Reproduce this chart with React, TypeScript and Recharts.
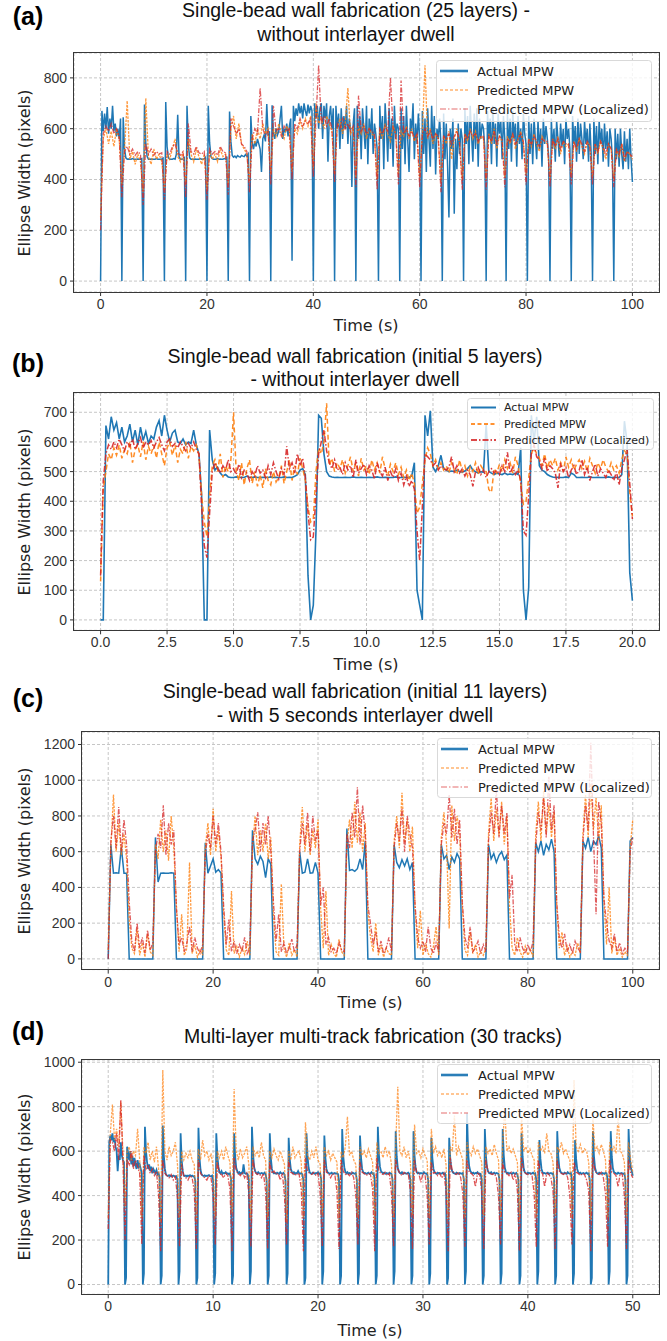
import React from 'react';
import { LineChart, Line, XAxis, YAxis, CartesianGrid } from 'recharts';

const BLUE = '#1f77b4';
const ORANGE = '#ff7f0e';
const RED = '#d62728';

// ---------- (a) 25 layers, no dwell ----------
const aXTicks = [0, 20, 40, 60, 80, 100];
const aYTicks = [0, 200, 400, 600, 800];
const aDtActual = 0.25;
const aDtPred = 0.5;
// one line = 4 s
const aActual = [
  0, 670, 590, 660, 600, 685, 580, 640, 600, 690, 590, 620, 570, 600, 560, 640,
  0, 645, 520, 485, 480, 481, 480, 480, 482, 480, 480, 480, 481, 480, 480, 482,
  0, 695, 540, 490, 480, 480, 481, 480, 480, 480, 482, 480, 480, 480, 480, 484,
  0, 705, 530, 485, 480, 480, 480, 482, 480, 500, 655, 490, 480, 480, 481, 486,
  0, 690, 535, 485, 480, 480, 480, 481, 480, 480, 480, 482, 480, 480, 482, 488,
  0, 690, 545, 490, 482, 480, 480, 480, 483, 480, 481, 480, 480, 482, 480, 490,
  0, 668, 550, 495, 488, 492, 486, 494, 490, 488, 495, 492, 490, 498, 492, 500,
  0, 650, 545, 520, 550, 530, 560, 540, 520, 430, 560, 575, 550, 697, 570, 590,
  0, 692, 580, 560, 600, 575, 590, 640, 690, 560, 600, 585, 620, 570, 610, 640,
  80, 690, 630, 680, 650, 700, 660, 690, 640, 700, 670, 650, 695, 660, 690, 670,
  0, 700, 640, 690, 600, 680, 700, 560, 690, 640, 700, 470, 650, 690, 600, 680,
  0, 690, 600, 660, 520, 680, 560, 650, 600, 690, 540, 640, 600, 370, 620, 680,
  0, 690, 560, 650, 480, 680, 600, 520, 690, 460, 640, 560, 680, 500, 620, 580,
  520, 0, 690, 560, 650, 440, 700, 600, 470, 680, 520, 640, 450, 690, 560, 620,
  600, 0, 680, 520, 650, 460, 690, 560, 430, 640, 590, 700, 480, 620, 540, 660,
  560, 0, 670, 500, 640, 430, 680, 560, 450, 690, 520, 650, 420, 600, 560, 640,
  540, 0, 660, 480, 620, 450, 250, 600, 520, 640, 265, 560, 440, 620, 500, 600,
  560, 0, 680, 540, 650, 460, 690, 580, 470, 660, 520, 680, 450, 640, 560, 620,
  600, 520, 0, 670, 560, 640, 460, 690, 540, 620, 450, 660, 580, 630, 480, 650,
  560, 0, 660, 520, 640, 470, 670, 560, 620, 450, 650, 540, 600, 480, 660, 580,
  540, 0, 650, 500, 620, 460, 640, 560, 480, 630, 520, 600, 450, 640, 540, 610,
  560, 490, 0, 640, 520, 600, 470, 630, 560, 490, 620, 530, 600, 460, 640, 560,
  600, 520, 0, 650, 540, 610, 470, 640, 500, 620, 560, 480, 630, 540, 600, 470,
  620, 500, 0, 640, 500, 610, 460, 630, 540, 600, 470, 620, 520, 590, 450, 600,
  560, 480, 0, 600, 480, 580, 450, 600, 500, 440, 590, 470, 560, 440, 600, 480,
  390,
];
const aPred = [
  250, 560, 600, 540, 590, 530, 600, 560,
  380, 520, 710, 480, 510, 460, 500, 470,
  350, 720, 490, 460, 520, 480, 500, 470,
  360, 500, 480, 520, 560, 490, 470, 510,
  380, 560, 500, 470, 520, 490, 460, 500,
  360, 510, 480, 500, 470, 520, 490, 500,
  380, 600, 650, 560, 620, 540, 520, 500,
  390, 580, 540, 600, 560, 620, 580, 600,
  420, 600, 570, 620, 580, 560, 610, 590,
  430, 600, 580, 630, 600, 640, 610, 650,
  440, 700, 620, 640, 600, 650, 620, 590,
  420, 600, 640, 580, 620, 760, 580, 600,
  410, 610, 580, 620, 560, 600, 580, 570,
  400, 600, 560, 620, 580, 550, 610, 580,
  420, 590, 570, 610, 560, 600, 550, 580,
  400, 580, 850, 560, 600, 540, 580, 560,
  390, 570, 540, 590, 480, 560, 600, 540,
  400, 580, 550, 600, 560, 590, 540, 570,
  560, 400, 580, 540, 600, 520, 570, 550,
  410, 570, 540, 580, 520, 560, 590, 540,
  420, 560, 530, 580, 540, 510, 570, 550,
  540, 400, 560, 520, 570, 500, 550, 530,
  540, 420, 550, 510, 560, 530, 500, 550,
  530, 410, 540, 500, 550, 520, 480, 540,
  520, 400, 520, 490, 540, 470, 510, 500,
  480,
];
const aLocal = [
  200, 580, 610, 590, 620, 580, 600, 570,
  330, 510, 530, 500, 520, 495, 510, 500,
  300, 540, 500, 520, 495, 510, 500, 505,
  320, 510, 500, 530, 540, 505, 495, 510,
  330, 620, 510, 500, 530, 505, 500, 510,
  320, 520, 500, 510, 495, 530, 510, 505,
  340, 640, 610, 580, 600, 540, 530, 510,
  350, 560, 600, 580, 760, 600, 570, 590,
  380, 690, 590, 600, 570, 610, 590, 600,
  400, 620, 600, 640, 610, 630, 620, 640,
  410, 640, 850, 620, 650, 610, 640, 600,
  390, 620, 600, 640, 600, 620, 590, 610,
  370, 730, 590, 610, 580, 600, 590, 580,
  360, 600, 580, 610, 590, 800, 600, 580,
  380, 790, 580, 600, 570, 590, 560, 580,
  370, 580, 600, 570, 590, 560, 580, 570,
  350, 570, 560, 580, 540, 570, 590, 550,
  360, 580, 560, 590, 570, 580, 550, 570,
  570, 360, 570, 550, 590, 540, 570, 560,
  370, 560, 550, 580, 540, 560, 580, 550,
  380, 560, 540, 570, 550, 530, 560, 550,
  550, 370, 560, 530, 560, 520, 550, 540,
  540, 380, 550, 520, 560, 540, 510, 550,
  530, 380, 540, 510, 550, 530, 500, 540,
  520, 370, 520, 500, 540, 480, 510, 500,
  490,
];

// ---------- (b) initial 5 layers ----------
const bXTicks = [0, 2.5, 5, 7.5, 10, 12.5, 15, 17.5, 20];
const bYTicks = [0, 100, 200, 300, 400, 500, 600, 700];
const bDt = 0.1;
// one line = 1 s
const bActual = [
  0, 0, 655, 610, 685, 640, 665, 610, 650, 600,
  620, 660, 600, 640, 590, 650, 605, 635, 595, 620,
  610, 650, 672, 620, 690, 640, 600, 630, 640, 600,
  595, 610, 590, 600, 595, 640, 590, 560, 420, 0,
  0, 640, 540, 505, 515, 495, 485, 490, 482, 480,
  480, 482, 480, 481, 480, 485, 480, 480, 482, 480,
  480, 481, 480, 480, 482, 480, 481, 480, 480, 482,
  480, 481, 480, 484, 490, 505, 510, 490, 150, 0,
  50, 300, 690, 680, 560, 500, 485, 482, 480, 481,
  480, 480, 481, 480, 480, 482, 480, 480, 481, 480,
  480, 481, 480, 480, 482, 480, 480, 481, 480, 480,
  480, 482, 480, 480, 481, 480, 480, 485, 530, 100,
  50, 0, 690, 620, 705, 515, 500, 520, 555, 510,
  505, 500, 502, 500, 505, 500, 498, 502, 510, 520,
  505, 500, 495, 500, 498, 660, 500, 495, 490, 495,
  492, 490, 495, 490, 492, 490, 495, 490, 580, 100,
  0, 110, 690, 600, 685, 520, 505, 500, 490, 485,
  482, 480, 481, 480, 480, 482, 480, 495, 490, 480,
  480, 481, 480, 480, 482, 480, 480, 481, 480, 480,
  480, 482, 480, 481, 480, 480, 490, 670, 600, 160,
  65,
];
const bPred = [
  130, 440, 500, 560, 540, 580, 555, 590, 545, 575,
  560, 600, 530, 575, 590, 550, 600, 540, 585, 560,
  590, 545, 600, 560, 520, 580, 600, 555, 590, 530,
  575, 560, 600, 545, 585, 570, 590, 555, 420, 330,
  280, 420, 520, 540, 500, 560, 480, 520, 500, 540,
  700, 500, 470, 530, 455, 510, 540, 460, 500, 450,
  490, 445, 510, 470, 455, 500, 465, 480, 520, 460,
  500, 540, 470, 520, 490, 545, 510, 470, 380, 330,
  340, 500, 580, 560, 600, 730, 520, 545, 500, 530,
  510, 540, 495, 520, 550, 500, 530, 485, 545, 505,
  520, 490, 540, 505, 530, 495, 550, 510, 485, 525,
  500, 530, 490, 515, 480, 505, 470, 495, 460, 360,
  380, 460, 540, 580, 560, 520, 540, 510, 530, 505,
  520, 495, 530, 505, 490, 540, 500, 520, 485, 515,
  500, 530, 490, 520, 505, 500, 440, 430, 510, 495,
  525, 500, 540, 510, 530, 495, 550, 520, 460, 390,
  400, 480, 560, 580, 560, 545, 520, 560, 510, 540,
  520, 545, 505, 530, 500, 550, 515, 540, 505, 525,
  540, 510, 535, 500, 545, 520, 495, 530, 510, 540,
  515, 500, 530, 505, 520, 495, 540, 570, 560, 430,
  350,
];
const bLocal = [
  150, 470, 560, 590, 575, 600, 580, 610, 590, 570,
  600, 585, 610, 575, 595, 615, 580, 600, 590, 605,
  580, 600, 615, 590, 570, 600, 610, 585, 595, 580,
  600, 585, 570, 595, 580, 600, 575, 560, 380, 250,
  210, 360, 500, 530, 510, 495, 520, 505, 540, 500,
  510, 490, 525, 480, 505, 495, 470, 500, 485, 520,
  495, 505, 480, 520, 490, 530, 500, 475, 510, 490,
  585, 510, 530, 495, 560, 520, 545, 480, 360, 270,
  280, 420, 560, 600, 640, 570, 530, 510, 540, 505,
  515, 490, 530, 505, 520, 480, 540, 495, 510, 525,
  490, 520, 505, 475, 530, 500, 485, 515, 470, 500,
  480, 510, 470, 495, 455, 485, 450, 470, 440, 300,
  200, 380, 560, 550, 540, 520, 530, 505, 520, 510,
  505, 515, 550, 500, 520, 495, 510, 485, 505, 490,
  450, 500, 515, 490, 505, 480, 500, 510, 495, 505,
  490, 520, 500, 565, 495, 515, 490, 505, 470, 300,
  286, 420, 560, 590, 550, 540, 510, 545, 500, 520,
  510, 495, 445, 530, 500, 515, 480, 505, 520, 490,
  505, 540, 490, 515, 470, 500, 525, 485, 510, 495,
  480, 505, 490, 470, 500, 455, 510, 540, 575, 460,
  340,
];

// ---------- (c) initial 11 layers, 5 s dwell ----------
const cXTicks = [0, 20, 40, 60, 80, 100];
const cYTicks = [0, 200, 400, 600, 800, 1000, 1200];
const cDt = 0.5;
// one line = 5 s
const cActual = [
  0, 640, 480, 482, 480, 625, 480, 480, 0, 0,
  0, 0, 0, 0, 0, 0, 0, 0, 680, 430,
  480, 481, 480, 480, 482, 480, 0, 0, 0, 0,
  0, 0, 0, 0, 0, 0, 0, 650, 480, 520,
  560, 485, 500, 480, 0, 0, 0, 0, 0, 0,
  0, 0, 0, 0, 0, 720, 560, 530, 575, 545,
  455, 560, 530, 0, 0, 0, 0, 0, 0, 0,
  0, 0, 0, 600, 480, 485, 560, 480, 482, 540,
  480, 0, 0, 0, 0, 0, 0, 0, 0, 0,
  0, 730, 495, 500, 490, 505, 560, 500, 660, 0,
  0, 0, 0, 0, 0, 0, 0, 0, 0, 640,
  540, 510, 555, 520, 560, 500, 540, 0, 0, 0,
  0, 0, 0, 0, 0, 0, 0, 640, 560, 580,
  500, 570, 540, 590, 560, 0, 0, 0, 0, 0,
  0, 0, 0, 0, 0, 640, 560, 590, 540, 580,
  600, 555, 580, 0, 0, 0, 0, 0, 0, 0,
  0, 0, 0, 650, 600, 660, 580, 640, 610, 670,
  600, 0, 0, 0, 0, 0, 0, 0, 0, 0,
  0, 660, 620, 680, 600, 660, 640, 690, 620, 0,
  0, 0, 0, 0, 0, 0, 0, 0, 0, 660,
  680,
];
const cPred = [
  50, 620, 920, 600, 760, 580, 700, 560, 220, 60,
  30, 170, 20, 90, 10, 140, 40, 20, 640, 560,
  780, 600, 720, 550, 800, 620, 300, 40, 250, 20,
  60, 540, 30, 80, 10, 50, 20, 620, 760, 580,
  840, 600, 720, 570, 260, 50, 20, 380, 30, 70,
  10, 60, 25, 100, 20, 620, 800, 580, 720, 600,
  760, 560, 680, 240, 40, 20, 420, 60, 10, 90,
  20, 50, 10, 640, 850, 600, 760, 580, 720, 620,
  780, 280, 60, 380, 20, 80, 30, 10, 110, 40,
  20, 640, 780, 620, 880, 650, 820, 600, 760, 260,
  120, 40, 200, 20, 80, 10, 60, 30, 20, 660,
  800, 620, 930, 650, 780, 600, 740, 280, 60, 270,
  20, 90, 30, 10, 70, 180, 20, 680, 820, 640,
  170, 860, 660, 800, 700, 300, 50, 20, 150, 30,
  80, 10, 40, 20, 60, 700, 900, 660, 840, 690,
  880, 640, 800, 300, 60, 20, 120, 40, 10, 70,
  20, 50, 10, 700, 880, 660, 940, 700, 860, 680,
  820, 300, 60, 150, 20, 70, 10, 40, 20, 90,
  30, 700, 920, 680, 980, 720, 900, 660, 860, 320,
  80, 400, 30, 120, 20, 60, 10, 40, 20, 620,
  780,
];
const cLocal = [
  0, 660, 800, 620, 850, 600, 780, 640, 320, 100,
  40, 200, 60, 120, 30, 160, 50, 90, 600, 700,
  620, 860, 580, 760, 640, 720, 280, 80, 120, 40,
  90, 180, 40, 120, 60, 30, 80, 580, 700, 620,
  800, 640, 760, 600, 300, 80, 220, 40, 100, 30,
  80, 40, 120, 30, 60, 660, 720, 820, 600, 760,
  640, 800, 600, 320, 100, 250, 40, 90, 30, 60,
  110, 40, 80, 600, 760, 640, 820, 600, 800, 660,
  720, 300, 400, 80, 120, 40, 60, 30, 90, 50,
  40, 700, 620, 820, 680, 960, 640, 860, 700, 300,
  200, 80, 150, 40, 100, 30, 60, 120, 40, 620,
  760, 660, 840, 600, 800, 700, 620, 300, 120, 60,
  100, 40, 180, 60, 30, 90, 40, 640, 760, 700,
  920, 680, 840, 640, 780, 320, 120, 60, 180, 40,
  60, 100, 30, 80, 40, 660, 820, 700, 950, 680,
  860, 700, 820, 340, 470, 80, 40, 120, 60, 30,
  80, 40, 100, 640, 820, 720, 900, 680, 1020, 720,
  860, 320, 120, 60, 140, 40, 80, 30, 100, 60,
  40, 660, 860, 720, 1210, 700, 250, 880, 760, 340,
  200, 100, 60, 140, 40, 90, 30, 60, 40, 600,
  680,
];

// ---------- (d) 30 tracks ----------
const dXTicks = [0, 10, 20, 30, 40, 50];
const dYTicks = [0, 200, 400, 600, 800, 1000];
const dDtActual = 0.1;
const dDtPred = 0.2;
// one line = one track
const dActual = [
  0, 640, 670, 650, 680, 640, 660, 620, 600, 510, 580, 560, 640, 580, 560, 550,
  0, 30, 620, 590, 560, 600, 540, 580, 530, 570, 540, 520, 560, 530, 540, 520, 500,
  0, 50, 710, 600, 550, 520, 540, 510, 530, 500, 520, 510, 500, 515, 495, 500, 480,
  0, 40, 715, 580, 520, 495, 490, 488, 492, 487, 490, 486, 490, 488, 485, 487, 470,
  0, 60, 680, 560, 510, 490, 488, 490, 486, 490, 488, 492, 487, 490, 486, 488, 465,
  0, 30, 705, 570, 515, 495, 490, 488, 491, 487, 490, 489, 492, 488, 486, 490, 470,
  0, 50, 680, 580, 530, 505, 500, 510, 498, 502, 500, 505, 498, 500, 496, 500, 475,
  0, 40, 680, 575, 525, 510, 500, 505, 498, 503, 500, 540, 502, 498, 500, 495, 472,
  0, 60, 710, 590, 530, 510, 502, 498, 505, 500, 498, 502, 500, 497, 503, 498, 470,
  0, 40, 680, 570, 520, 505, 500, 502, 498, 503, 500, 498, 505, 500, 498, 502, 495, 468,
  0, 50, 660, 565, 520, 508, 500, 505, 498, 502, 500, 510, 500, 498, 502, 496, 470,
  0, 30, 680, 575, 525, 505, 500, 498, 503, 500, 498, 502, 500, 505, 498, 500, 472,
  0, 60, 670, 570, 520, 505, 502, 498, 500, 503, 498, 500, 502, 498, 500, 497, 468,
  0, 40, 700, 580, 528, 508, 500, 505, 498, 502, 500, 498, 503, 500, 498, 502, 470,
  0, 50, 670, 570, 520, 506, 500, 502, 498, 500, 503, 498, 500, 505, 498, 500, 470,
  0, 40, 710, 585, 530, 510, 505, 500, 503, 498, 502, 500, 498, 503, 500, 498, 472,
  0, 60, 690, 575, 525, 508, 502, 500, 505, 498, 500, 502, 498, 500, 503, 498, 470,
  0, 40, 690, 578, 524, 506, 500, 503, 498, 502, 500, 498, 505, 500, 498, 500, 468,
  0, 50, 660, 568, 520, 505, 500, 498, 503, 500, 502, 498, 500, 503, 498, 500, 470,
  0, 30, 660, 570, 522, 508, 502, 500, 498, 503, 500, 498, 502, 500, 498, 502, 472,
  0, 60, 770, 600, 535, 512, 505, 500, 503, 498, 502, 500, 505, 498, 500, 498, 470,
  0, 40, 700, 580, 528, 510, 502, 500, 505, 498, 500, 503, 498, 502, 500, 498, 468,
  0, 50, 700, 582, 526, 508, 500, 503, 498, 502, 500, 498, 503, 500, 498, 502, 495, 470,
  0, 40, 680, 575, 524, 506, 500, 498, 503, 500, 502, 498, 500, 503, 498, 500, 472,
  0, 60, 650, 565, 520, 505, 500, 502, 498, 500, 503, 498, 500, 502, 498, 500, 470,
  0, 40, 690, 578, 525, 508, 502, 500, 498, 503, 500, 498, 505, 500, 498, 502, 468,
  0, 50, 650, 565, 520, 505, 500, 503, 498, 500, 502, 498, 500, 503, 498, 500, 470,
  0, 30, 690, 578, 525, 508, 500, 498, 503, 500, 498, 502, 500, 498, 503, 500, 472,
  0, 60, 690, 575, 524, 506, 502, 500, 498, 503, 500, 498, 502, 500, 498, 500, 470,
  0, 40, 700, 580, 530, 510, 490,
];
const dPred = [
  300, 680, 810, 650, 700, 620, 820, 600,
  350, 600, 620, 560, 600, 580, 700, 560,
  300, 620, 590, 640, 560, 600, 550, 620, 520,
  280, 965, 600, 560, 620, 580, 600, 640, 540,
  300, 600, 560, 590, 570, 600, 560, 540,
  280, 610, 560, 650, 580, 600, 560, 590, 530,
  300, 600, 570, 600, 560, 620, 580, 550,
  320, 880, 600, 560, 610, 570, 590, 620, 540,
  290, 620, 580, 600, 570, 640, 580, 560,
  300, 600, 570, 610, 580, 560, 600, 570, 540,
  280, 600, 560, 620, 570, 590, 600, 550,
  300, 730, 580, 560, 600, 570, 620, 560, 540,
  310, 620, 580, 600, 560, 590, 570, 550,
  290, 600, 570, 620, 755, 580, 600, 560, 540,
  300, 620, 580, 600, 570, 610, 580, 550,
  280, 640, 590, 600, 570, 620, 580, 600, 540,
  300, 620, 890, 600, 580, 620, 570, 600, 550,
  310, 720, 590, 600, 570, 610, 580, 560,
  300, 700, 590, 620, 580, 600, 570, 610, 540,
  290, 620, 600, 760, 580, 620, 590, 560,
  300, 640, 600, 580, 620, 590, 610, 580, 550,
  310, 620, 590, 610, 580, 630, 590, 560,
  300, 640, 790, 600, 620, 590, 610, 580, 550,
  290, 760, 600, 620, 590, 610, 580, 560,
  300, 640, 600, 620, 590, 680, 600, 590, 550,
  310, 620, 600, 640, 590, 610, 580, 560,
  300, 920, 620, 600, 630, 590, 610, 600, 550,
  290, 750, 600, 620, 590, 630, 600, 560,
  300, 640, 600, 620, 590, 760, 600, 590, 550,
  300, 640, 560, 500,
];
const dLocal = [
  250, 650, 640, 600, 680, 560, 830, 560,
  200, 560, 540, 600, 520, 560, 530, 500,
  180, 580, 520, 540, 500, 520, 490, 510, 400,
  150, 560, 500, 490, 480, 495, 470, 485, 390,
  170, 540, 490, 480, 470, 490, 480, 420,
  160, 560, 500, 490, 480, 470, 490, 480, 400,
  180, 550, 500, 495, 480, 500, 490, 430,
  150, 570, 510, 500, 490, 505, 480, 500, 410,
  170, 560, 505, 495, 500, 480, 500, 420,
  160, 550, 500, 510, 495, 500, 470, 500, 400,
  180, 560, 505, 500, 490, 500, 495, 430,
  150, 570, 510, 500, 495, 505, 490, 500, 410,
  170, 560, 505, 500, 480, 500, 495, 420,
  160, 560, 510, 495, 500, 490, 505, 480, 400,
  180, 550, 505, 500, 490, 500, 495, 430,
  150, 570, 510, 500, 495, 505, 490, 500, 410,
  170, 560, 520, 500, 490, 505, 495, 500, 420,
  160, 560, 505, 500, 460, 500, 495, 400,
  180, 550, 500, 505, 490, 500, 480, 500, 420,
  150, 570, 510, 500, 495, 505, 480, 410,
  170, 560, 505, 500, 490, 440, 500, 495, 420,
  160, 560, 510, 500, 495, 500, 480, 400,
  180, 550, 505, 500, 490, 505, 470, 500, 420,
  150, 570, 510, 500, 495, 500, 490, 410,
  170, 560, 505, 500, 440, 500, 495, 480, 420,
  160, 560, 510, 500, 495, 505, 480, 400,
  180, 550, 505, 500, 490, 500, 495, 470, 420,
  150, 570, 510, 500, 495, 505, 480, 410,
  170, 560, 505, 500, 490, 440, 500, 495, 400,
  160, 560, 500, 480,
];

const LABELS = ['Actual MPW', 'Predicted MPW', 'Predicted MPW (Localized)'];

const toPts = (vals: number[], dt: number) => vals.map((v, i) => ({ t: Math.round(i * dt * 1000) / 1000, v }));

type LineStyle = { color: string; width: number; dash?: string; opacity: number };

const thinStyles: LineStyle[] = [
  { color: BLUE, width: 1.5, opacity: 1 },
  { color: ORANGE, width: 1.3, dash: '2.5 1.2', opacity: 0.8 },
  { color: RED, width: 1.3, dash: '5 1.5 1.5 1.5', opacity: 0.75 },
];
const bStyles: LineStyle[] = [
  { color: BLUE, width: 1.6, opacity: 1 },
  { color: ORANGE, width: 1.5, dash: '5 3', opacity: 0.9 },
  { color: RED, width: 1.5, dash: '6 2 1.5 2', opacity: 0.9 },
];
const thinLegend: LineStyle[] = [
  { color: BLUE, width: 2.6, opacity: 0.95 },
  { color: ORANGE, width: 1.3, dash: '3 2', opacity: 0.6 },
  { color: RED, width: 1.3, dash: '6 2 1.5 2', opacity: 0.45 },
];
const bLegend: LineStyle[] = [
  { color: BLUE, width: 2, opacity: 1 },
  { color: ORANGE, width: 2, dash: '4 2.5', opacity: 0.85 },
  { color: RED, width: 2, dash: '6 2 1.5 2', opacity: 0.85 },
];

type PanelProps = {
  rect: { l: number; r: number; t: number; b: number };
  xDomain: [number, number];
  xTicks: number[];
  xFmt?: (v: number) => string;
  yDomain: [number, number];
  yTicks: number[];
  series: { data: { t: number; v: number }[]; style: LineStyle }[];
};

function Panel({ rect, xDomain, xTicks, xFmt, yDomain, yTicks, series }: PanelProps) {
  const mt = 10;
  const xh = 30;
  const plotH = rect.b - rect.t;
  const tickStyle = { fill: '#333', fontSize: 14, fontFamily: 'Liberation Sans, Arial, sans-serif' };
  return (
    <div style={{ position: 'absolute', left: 0, top: rect.t - mt }}>
      <LineChart width={667} height={mt + plotH + xh} margin={{ top: mt, right: 667 - rect.r, bottom: 0, left: 0 }}>
        <CartesianGrid stroke="#c6c6c6" strokeDasharray="3 2" />
        <XAxis
          dataKey="t"
          type="number"
          domain={xDomain}
          ticks={xTicks}
          allowDataOverflow
          height={xh}
          axisLine={false}
          tickLine={{ stroke: '#333' }}
          tickSize={4}
          tickMargin={3}
          tick={tickStyle}
          tickFormatter={xFmt}
          interval={0}
        />
        <YAxis
          type="number"
          domain={yDomain}
          ticks={yTicks}
          allowDataOverflow
          width={rect.l}
          axisLine={false}
          tickLine={{ stroke: '#333' }}
          tickSize={4}
          tickMargin={3}
          tick={tickStyle}
          interval={0}
        />
        {series.map((s, i) => (
          <Line
            key={i}
            data={s.data}
            dataKey="v"
            type="linear"
            dot={false}
            activeDot={false}
            isAnimationActive={false}
            stroke={s.style.color}
            strokeWidth={s.style.width}
            strokeDasharray={s.style.dash}
            strokeOpacity={s.style.opacity}
          />
        ))}
      </LineChart>
      <div
        style={{
          position: 'absolute',
          left: rect.l - 0.6,
          top: mt - 0.6,
          width: rect.r - rect.l + 1.2,
          height: plotH + 1.2,
          border: '1.3px solid #383838',
          boxSizing: 'border-box',
          pointerEvents: 'none',
        }}
      />
    </div>
  );
}

function LegendBox({ x, y, w, h, rows, hx1, hx2, tx, fontSize, styles }: {
  x: number; y: number; w: number; h: number; rows: number[]; hx1: number; hx2: number; tx: number; fontSize: number; styles: LineStyle[];
}) {
  return (
    <svg style={{ position: 'absolute', left: x, top: y, overflow: 'visible' }} width={w} height={h}>
      <rect x={0.5} y={0.5} width={w - 1} height={h - 1} rx={3} fill="rgba(255,255,255,0.8)" stroke="#d9d9d9" />
      {LABELS.map((lab, i) => (
        <g key={lab}>
          <line x1={hx1} x2={hx2} y1={rows[i]} y2={rows[i]} stroke={styles[i].color} strokeWidth={styles[i].width} strokeDasharray={styles[i].dash} strokeOpacity={styles[i].opacity} />
          <text x={tx} y={rows[i]} dominantBaseline="central" fontSize={fontSize} fontFamily="DejaVu Sans, sans-serif" fill="#222">{lab}</text>
        </g>
      ))}
    </svg>
  );
}

const txt = (s: string, cx: number, cy: number, style: React.CSSProperties, rotate = false) => (
  <div
    key={s + cy}
    style={{
      position: 'absolute',
      left: cx,
      top: cy,
      transform: `translate(-50%, -50%)${rotate ? ' rotate(-90deg)' : ''}`,
      whiteSpace: 'nowrap',
      lineHeight: 1,
      color: '#111',
      ...style,
    }}
  >
    {s}
  </div>
);

const titleFont: React.CSSProperties = { fontFamily: 'Liberation Sans, Arial, sans-serif', fontSize: 19.5 };
const tagFont: React.CSSProperties = { fontFamily: 'Liberation Sans, Arial, sans-serif', fontSize: 25, fontWeight: 'bold', color: '#000' };
const labelFont: React.CSSProperties = { fontFamily: 'DejaVu Sans, sans-serif', fontSize: 16, color: '#222' };

export default function App() {
  return (
    <div style={{ position: 'absolute', left: 0, top: 0, width: 667, height: 1341, background: '#fff', overflow: 'hidden' }}>
      {/* (a) */}
      <Panel
        rect={{ l: 74, r: 659, t: 53, b: 292 }}
        xDomain={[-5, 105]}
        xTicks={aXTicks}
        yDomain={[-43, 898]}
        yTicks={aYTicks}
        series={[
          { data: toPts(aActual, aDtActual), style: thinStyles[0] },
          { data: toPts(aPred, aDtPred), style: thinStyles[1] },
          { data: toPts(aLocal, aDtPred), style: thinStyles[2] },
        ]}
      />
      <LegendBox x={436} y={60} w={216} h={62} rows={[11, 30, 49]} hx1={4} hx2={32} tx={41} fontSize={13} styles={thinLegend} />
      {txt('(a)', 28, 16, tagFont)}
      {txt('Single-bead wall fabrication (25 layers) -', 356, 11, titleFont)}
      {txt('without interlayer dwell', 356, 35, titleFont)}
      {txt('Ellipse Width (pixels)', 25, 173, labelFont, true)}
      {txt('Time (s)', 366, 326, labelFont)}

      {/* (b) */}
      <Panel
        rect={{ l: 74, r: 659, t: 393, b: 630.3 }}
        xDomain={[-1, 21]}
        xTicks={bXTicks}
        xFmt={(v: number) => v.toFixed(1)}
        yDomain={[-35, 765]}
        yTicks={bYTicks}
        series={[
          { data: toPts(bActual, bDt), style: bStyles[0] },
          { data: toPts(bPred, bDt), style: bStyles[1] },
          { data: toPts(bLocal, bDt), style: bStyles[2] },
        ]}
      />
      <LegendBox x={467} y={398} w={187} h={52} rows={[9.5, 26, 42]} hx1={4} hx2={29} tx={37} fontSize={11} styles={bLegend} />
      {txt('(b)', 28, 363, tagFont)}
      {txt('Single-bead wall fabrication (initial 5 layers)', 355, 356.5, titleFont)}
      {txt('- without interlayer dwell', 355, 380, titleFont)}
      {txt('Ellipse Width (pixels)', 25, 512, labelFont, true)}
      {txt('Time (s)', 366, 665, labelFont)}

      {/* (c) */}
      <Panel
        rect={{ l: 82, r: 659, t: 731.7, b: 969.3 }}
        xDomain={[-5, 105]}
        xTicks={cXTicks}
        yDomain={[-60, 1270]}
        yTicks={cYTicks}
        series={[
          { data: toPts(cActual, cDt), style: thinStyles[0] },
          { data: toPts(cPred, cDt), style: thinStyles[1] },
          { data: toPts(cLocal, cDt), style: thinStyles[2] },
        ]}
      />
      <LegendBox x={437} y={738} w={215} h={60} rows={[11, 30, 49]} hx1={4} hx2={31} tx={41} fontSize={13} styles={thinLegend} />
      {txt('(c)', 28, 697.5, tagFont)}
      {txt('Single-bead wall fabrication (initial 11 layers)', 355, 691.5, titleFont)}
      {txt('- with 5 seconds interlayer dwell', 355, 716, titleFont)}
      {txt('Ellipse Width (pixels)', 25, 851, labelFont, true)}
      {txt('Time (s)', 370, 1003, labelFont)}

      {/* (d) */}
      <Panel
        rect={{ l: 82, r: 659, t: 1060, b: 1294.3 }}
        xDomain={[-2.5, 52.5]}
        xTicks={dXTicks}
        yDomain={[-44, 1010]}
        yTicks={dYTicks}
        series={[
          { data: toPts(dActual, dDtActual), style: { ...thinStyles[0], width: 1.8 } },
          { data: toPts(dPred, dDtPred), style: { ...thinStyles[1], opacity: 0.7 } },
          { data: toPts(dLocal, dDtPred), style: { ...thinStyles[2], opacity: 0.8 } },
        ]}
      />
      <LegendBox x={437} y={1064} w={215} h={60} rows={[11, 30, 49]} hx1={4} hx2={31} tx={41} fontSize={13} styles={thinLegend} />
      {txt('(d)', 28, 1031, tagFont)}
      {txt('Multi-layer multi-track fabrication (30 tracks)', 373, 1036.5, titleFont)}
      {txt('Ellipse Width (pixels)', 25, 1177, labelFont, true)}
      {txt('Time (s)', 370, 1331, labelFont)}
    </div>
  );
}
